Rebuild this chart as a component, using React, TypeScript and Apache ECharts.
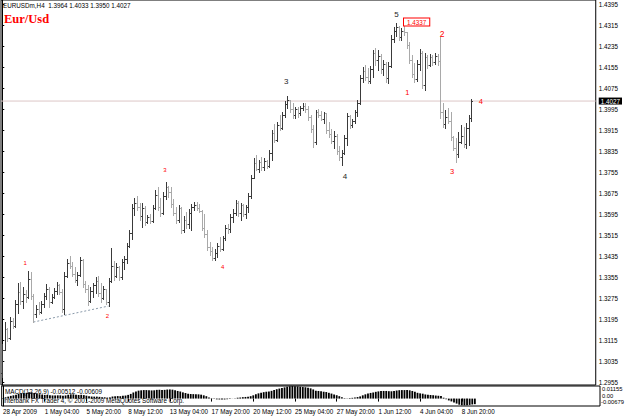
import React, { useEffect, useRef } from 'react';
import * as echarts from 'echarts';

// ---- Data (EURUSDm, H4) ----
const open = [
  1.2990, 1.3080, 1.3158, 1.3125, 1.3190, 1.3170, 1.3255, 1.3300, 1.3265, 1.3290,
  1.3280, 1.3350, 1.3285, 1.3215, 1.3235, 1.3225, 1.3255, 1.3285, 1.3310, 1.3260,
  1.3280, 1.3305, 1.3325, 1.3300, 1.3235, 1.3360, 1.3410, 1.3400, 1.3370, 1.3345,
  1.3365, 1.3420, 1.3330, 1.3310, 1.3265, 1.3305, 1.3325, 1.3340, 1.3295, 1.3275,
  1.3310, 1.3262, 1.3340, 1.3400, 1.3360, 1.3395, 1.3355, 1.3415, 1.3425, 1.3475,
  1.3525, 1.3620, 1.3640, 1.3625, 1.3590, 1.3620, 1.3565, 1.3585, 1.3570, 1.3620,
  1.3670, 1.3625, 1.3600, 1.3665, 1.3700, 1.3680, 1.3635, 1.3600, 1.3575, 1.3620,
  1.3535, 1.3575, 1.3560, 1.3600, 1.3625, 1.3630, 1.3620, 1.3610, 1.3545, 1.3520,
  1.3470, 1.3455, 1.3430, 1.3450, 1.3475, 1.3465, 1.3505, 1.3545, 1.3540, 1.3585,
  1.3600, 1.3640, 1.3600, 1.3630, 1.3595, 1.3625, 1.3665, 1.3735, 1.3790, 1.3770,
  1.3795, 1.3775, 1.3800, 1.3780, 1.3830, 1.3905, 1.3880, 1.3935, 1.3925, 1.3975,
  1.4015, 1.4030, 1.3995, 1.3975, 1.3995, 1.3980, 1.4000, 1.4010, 1.3995, 1.3965,
  1.3920, 1.3870, 1.3985, 1.3975, 1.3960, 1.3980, 1.3915, 1.3900, 1.3875, 1.3895,
  1.3835, 1.3815, 1.3830, 1.3885, 1.3970, 1.3935, 1.3950, 1.3985, 1.4020, 1.4115,
  1.4140, 1.4120, 1.4105, 1.4150, 1.4210, 1.4185, 1.4200, 1.4150, 1.4170, 1.4115,
  1.4160, 1.4265, 1.4295, 1.4310, 1.4270, 1.4295, 1.4290, 1.4240, 1.4185, 1.4130,
  1.4110, 1.4170, 1.4210, 1.4090, 1.4195, 1.4165, 1.4195, 1.4175, 1.4200, 1.4180,
  1.3985, 1.3940, 1.3965, 1.3950, 1.3890, 1.3850, 1.3825, 1.3870, 1.3895, 1.3865,
  1.3925, 1.3964,
];
const high = [
  1.3101, 1.3185, 1.3162, 1.3204, 1.3200, 1.3270, 1.3334, 1.3338, 1.3319, 1.3307,
  1.3380, 1.3374, 1.3291, 1.3250, 1.3260, 1.3265, 1.3296, 1.3329, 1.3318, 1.3291,
  1.3313, 1.3338, 1.3329, 1.3310, 1.3374, 1.3424, 1.3435, 1.3414, 1.3395, 1.3376,
  1.3433, 1.3425, 1.3341, 1.3326, 1.3319, 1.3334, 1.3357, 1.3360, 1.3334, 1.3322,
  1.3311, 1.3353, 1.3467, 1.3418, 1.3410, 1.3399, 1.3425, 1.3437, 1.3486, 1.3536,
  1.3633, 1.3658, 1.3665, 1.3639, 1.3639, 1.3628, 1.3593, 1.3597, 1.3631, 1.3690,
  1.3698, 1.3658, 1.3681, 1.3717, 1.3705, 1.3698, 1.3652, 1.3624, 1.3631, 1.3625,
  1.3589, 1.3604, 1.3616, 1.3635, 1.3643, 1.3643, 1.3635, 1.3612, 1.3597, 1.3536,
  1.3490, 1.3471, 1.3463, 1.3486, 1.3509, 1.3513, 1.3555, 1.3559, 1.3597, 1.3616,
  1.3650, 1.3645, 1.3639, 1.3635, 1.3631, 1.3677, 1.3745, 1.3810, 1.3821, 1.3802,
  1.3814, 1.3810, 1.3802, 1.3840, 1.3917, 1.3940, 1.3947, 1.3974, 1.3985, 1.4027,
  1.4046, 1.4031, 1.4020, 1.4004, 1.4004, 1.4008, 1.4020, 1.4020, 1.4008, 1.3974,
  1.3936, 1.3993, 1.3997, 1.3989, 1.3985, 1.3981, 1.3947, 1.3920, 1.3913, 1.3900,
  1.3856, 1.3840, 1.3898, 1.3981, 1.3975, 1.3959, 1.3993, 1.4031, 1.4126, 1.4157,
  1.4164, 1.4153, 1.4160, 1.4221, 1.4229, 1.4221, 1.4205, 1.4183, 1.4175, 1.4176,
  1.4279, 1.4309, 1.4324, 1.4312, 1.4305, 1.4337, 1.4290, 1.4252, 1.4203, 1.4172,
  1.4183, 1.4225, 1.4218, 1.4210, 1.4203, 1.4206, 1.4203, 1.4210, 1.4205, 1.4271,
  1.4020, 1.3993, 1.4001, 1.3985, 1.3895, 1.3886, 1.3909, 1.3936, 1.3928, 1.3943,
  1.3974, 1.4033,
];
const low = [
  1.2975, 1.3078, 1.3112, 1.3120, 1.3162, 1.3165, 1.3219, 1.3253, 1.3239, 1.3262,
  1.3275, 1.3272, 1.3185, 1.3204, 1.3215, 1.3220, 1.3242, 1.3272, 1.3242, 1.3258,
  1.3276, 1.3291, 1.3291, 1.3223, 1.3215, 1.3357, 1.3391, 1.3360, 1.3338, 1.3326,
  1.3360, 1.3319, 1.3300, 1.3250, 1.3262, 1.3280, 1.3296, 1.3284, 1.3262, 1.3273,
  1.3254, 1.3246, 1.3338, 1.3345, 1.3357, 1.3345, 1.3350, 1.3387, 1.3410, 1.3470,
  1.3500, 1.3593, 1.3612, 1.3574, 1.3547, 1.3555, 1.3562, 1.3562, 1.3565, 1.3615,
  1.3612, 1.3589, 1.3595, 1.3652, 1.3663, 1.3624, 1.3593, 1.3562, 1.3566, 1.3524,
  1.3530, 1.3543, 1.3543, 1.3536, 1.3612, 1.3612, 1.3604, 1.3536, 1.3509, 1.3460,
  1.3440, 1.3422, 1.3422, 1.3433, 1.3456, 1.3460, 1.3498, 1.3524, 1.3528, 1.3566,
  1.3593, 1.3589, 1.3574, 1.3589, 1.3581, 1.3604, 1.3658, 1.3734, 1.3764, 1.3757,
  1.3764, 1.3764, 1.3772, 1.3775, 1.3802, 1.3871, 1.3875, 1.3917, 1.3920, 1.3966,
  1.4000, 1.3985, 1.3962, 1.3962, 1.3966, 1.3975, 1.3993, 1.3985, 1.3955, 1.3909,
  1.3852, 1.3865, 1.3966, 1.3955, 1.3943, 1.3905, 1.3890, 1.3867, 1.3848, 1.3825,
  1.3802, 1.3785, 1.3825, 1.3860, 1.3924, 1.3928, 1.3943, 1.3970, 1.4015, 1.4100,
  1.4107, 1.4096, 1.4096, 1.4119, 1.4164, 1.4145, 1.4134, 1.4126, 1.4100, 1.4096,
  1.4155, 1.4252, 1.4275, 1.4260, 1.4260, 1.4279, 1.4229, 1.4172, 1.4119, 1.4100,
  1.4105, 1.4145, 1.4077, 1.4070, 1.4153, 1.4160, 1.4164, 1.4170, 1.4164, 1.3962,
  1.3928, 1.3924, 1.3943, 1.3880, 1.3840, 1.3795, 1.3814, 1.3867, 1.3852, 1.3848,
  1.3860, 1.3950,
];
const close = [
  1.3080, 1.3160, 1.3125, 1.3190, 1.3170, 1.3255, 1.3300, 1.3265, 1.3290, 1.3280,
  1.3350, 1.3285, 1.3215, 1.3235, 1.3225, 1.3255, 1.3285, 1.3310, 1.3260, 1.3280,
  1.3305, 1.3325, 1.3300, 1.3235, 1.3360, 1.3410, 1.3400, 1.3370, 1.3345, 1.3365,
  1.3420, 1.3330, 1.3310, 1.3265, 1.3305, 1.3325, 1.3340, 1.3295, 1.3275, 1.3310,
  1.3262, 1.3340, 1.3400, 1.3360, 1.3395, 1.3355, 1.3415, 1.3425, 1.3475, 1.3525,
  1.3620, 1.3640, 1.3625, 1.3590, 1.3620, 1.3565, 1.3585, 1.3570, 1.3620, 1.3670,
  1.3625, 1.3600, 1.3665, 1.3700, 1.3680, 1.3635, 1.3600, 1.3575, 1.3620, 1.3535,
  1.3575, 1.3560, 1.3600, 1.3625, 1.3630, 1.3620, 1.3610, 1.3545, 1.3520, 1.3470,
  1.3455, 1.3430, 1.3450, 1.3475, 1.3465, 1.3505, 1.3545, 1.3540, 1.3585, 1.3600,
  1.3640, 1.3600, 1.3630, 1.3595, 1.3625, 1.3665, 1.3735, 1.3790, 1.3770, 1.3795,
  1.3775, 1.3800, 1.3780, 1.3830, 1.3905, 1.3880, 1.3935, 1.3925, 1.3975, 1.4015,
  1.4030, 1.3995, 1.3975, 1.3995, 1.3980, 1.4000, 1.4010, 1.3995, 1.3965, 1.3920,
  1.3870, 1.3985, 1.3975, 1.3960, 1.3980, 1.3915, 1.3900, 1.3875, 1.3895, 1.3835,
  1.3815, 1.3830, 1.3885, 1.3970, 1.3935, 1.3950, 1.3985, 1.4020, 1.4115, 1.4140,
  1.4120, 1.4105, 1.4150, 1.4210, 1.4185, 1.4200, 1.4150, 1.4170, 1.4115, 1.4160,
  1.4265, 1.4295, 1.4310, 1.4270, 1.4295, 1.4290, 1.4240, 1.4185, 1.4130, 1.4110,
  1.4170, 1.4210, 1.4090, 1.4195, 1.4165, 1.4195, 1.4175, 1.4200, 1.4180, 1.3985,
  1.3940, 1.3965, 1.3950, 1.3890, 1.3850, 1.3825, 1.3870, 1.3895, 1.3865, 1.3925,
  1.3964, 1.4027,
];
const macd = [
  0.0005, 0.0012, 0.0018, 0.0025, 0.0030, 0.0036, 0.0043, 0.0048, 0.0051, 0.0053,
  0.0058, 0.0059, 0.0052, 0.0046, 0.0040, 0.0036, 0.0034, 0.0034, 0.0031, 0.0029,
  0.0029, 0.0030, 0.0030, 0.0025, 0.0029, 0.0035, 0.0039, 0.0039, 0.0036, 0.0033,
  0.0035, 0.0032, 0.0027, 0.0021, 0.0019, 0.0018, 0.0018, 0.0016, 0.0013, 0.0012,
  0.0009, 0.0011, 0.0019, 0.0021, 0.0023, 0.0022, 0.0025, 0.0028, 0.0034, 0.0043,
  0.0056, 0.0066, 0.0073, 0.0076, 0.0078, 0.0078, 0.0077, 0.0075, 0.0076, 0.0080,
  0.0081, 0.0079, 0.0080, 0.0083, 0.0084, 0.0082, 0.0076, 0.0070, 0.0065, 0.0057,
  0.0051, 0.0045, 0.0042, 0.0041, 0.0040, 0.0039, 0.0036, 0.0030, 0.0022, 0.0010,
  0.0003, -0.0003, -0.0007, -0.0008, -0.0009, -0.0008, -0.0006, -0.0004, -0.0001, 0.0003,
  0.0008, 0.0010, 0.0013, 0.0015, 0.0017, 0.0022, 0.0030, 0.0040, 0.0048, 0.0054,
  0.0059, 0.0063, 0.0066, 0.0071, 0.0079, 0.0086, 0.0092, 0.0098, 0.0103, 0.0109,
  0.0113, 0.0115, 0.0114, 0.0112, 0.0109, 0.0106, 0.0104, 0.0100, 0.0094, 0.0084,
  0.0072, 0.0070, 0.0067, 0.0063, 0.0060, 0.0053, 0.0046, 0.0038, 0.0031, 0.0022,
  0.0012, 0.0004, 0.0002, 0.0005, 0.0007, 0.0009, 0.0014, 0.0020, 0.0030, 0.0039,
  0.0046, 0.0052, 0.0056, 0.0062, 0.0066, 0.0069, 0.0070, 0.0070, 0.0068, 0.0067,
  0.0070, 0.0074, 0.0077, 0.0078, 0.0078, 0.0079, 0.0076, 0.0070, 0.0062, 0.0053,
  0.0048, 0.0045, 0.0038, 0.0036, 0.0033, 0.0031, 0.0028, 0.0026, 0.0023, 0.0008,
  -0.0006, -0.0017, -0.0026, -0.0036, -0.0046, -0.0056, -0.0061, -0.0062, -0.0060, -0.0058,
  -0.0054, -0.00512,
];

const xTickBars = [0, 16, 32, 48, 64, 80, 96, 112, 128, 144, 160, 176];
const xTickLabels = [
  '28 Apr 2009', '1 May 04:00', '5 May 20:00', '8 May 12:00', '13 May 04:00', '17 May 20:00',
  '20 May 12:00', '25 May 04:00', '27 May 20:00', '1 Jun 12:00', '4 Jun 04:00', '8 Jun 20:00',
];
const priceTicks = [
  1.4395, 1.4315, 1.4235, 1.4155, 1.4075, 1.3995, 1.3915, 1.3835, 1.3755, 1.3675,
  1.3595, 1.3515, 1.3435, 1.3355, 1.3275, 1.3195, 1.3115, 1.3035, 1.2955,
];
const macdLabels = ['0.01155', '0.00', '-0.00679'];

// wave counts: text, bar position, price, colour, font size
const waveText = ['1', '2', '3', '4', '3', '4', '5', '1', '2', '3', '4'];
const waveBar = [8.8, 40.6, 62.8, 85, 109.6, 132.2, 152.1, 156.3, 169.7, 173.6, 184.7];
const wavePrice = [1.3410, 1.3208, 1.3764, 1.3395, 1.4100, 1.3738, 1.4355, 1.4058, 1.4282, 1.3757, 1.4024];
const waveColor = ['#ff0000', '#ff0000', '#ff0000', '#ff0000', '#1e1e1e', '#1e1e1e', '#1e1e1e', '#ff0000', '#ff0000', '#ff0000', '#ff0000'];
const waveSize = [6, 6, 6, 6, 8, 8, 8, 7.5, 8.5, 7.5, 7.5];

const FONT = 'Liberation Sans, Arial, sans-serif';

export default function App() {
  const ref = useRef<HTMLDivElement>(null);
  useEffect(() => {
    if (!ref.current) return;
    const chart = echarts.init(ref.current, undefined, { renderer: 'svg' });
    const n = close.length;
    const last = close[n - 1];
    const ohlc = close.map((_, i) => [i, open[i], close[i], low[i], high[i]]);
    const peakIdx = high.indexOf(Math.max(...high));
    const up = '#3a3a3a';
    const down = '#a9a9a9';
    const yTicks = [...priceTicks, last];
    const waves = waveText.map((_, i) => [waveBar[i], wavePrice[i], i]);

    chart.setOption({
      animation: false,
      backgroundColor: '#ffffff',
      textStyle: { fontFamily: FONT },
      grid: [
        { left: 1, top: 0, width: 599, height: 385, show: true, borderColor: '#000', borderWidth: 1, backgroundColor: '#fff' },
        { left: 1, top: 386, width: 599, height: 20, show: true, borderColor: '#000', borderWidth: 1 },
      ],
      xAxis: [
        {
          gridIndex: 0, type: 'value', min: -0.5, max: 229,
          axisLine: { show: false }, axisTick: { show: false }, axisLabel: { show: false }, splitLine: { show: false },
        },
        {
          gridIndex: 1, type: 'value', min: -0.5, max: 229,
          axisLine: { show: false }, splitLine: { show: false },
          axisTick: { show: true, customValues: xTickBars, length: 3, lineStyle: { color: '#000', width: 1 } },
          axisLabel: {
            show: true, customValues: xTickBars, fontSize: 6.3, color: '#000', align: 'left', margin: 2,
            fontFamily: FONT,
            formatter: (v: number) => xTickLabels[xTickBars.indexOf(Math.round(v))] ?? '',
          },
        },
      ],
      yAxis: [
        {
          gridIndex: 0, type: 'value', position: 'right', min: 1.29452, max: 1.4412,
          splitLine: { show: false },
          axisLine: { show: true, lineStyle: { color: '#000' } },
          axisTick: { show: true, customValues: priceTicks, length: 2, lineStyle: { color: '#000' } },
          axisLabel: {
            show: true, customValues: yTicks, fontSize: 6.3, color: '#000', margin: 3, fontFamily: FONT,
            formatter: (v: number) => (Math.abs(v - last) < 1e-9 ? `{hl|${v.toFixed(4)}}` : v.toFixed(4)),
            rich: {
              hl: { color: '#fff', backgroundColor: '#000', padding: [1, 2, 0, 2], fontSize: 6.3, fontFamily: FONT },
            },
          },
        },
        {
          gridIndex: 1, type: 'value', position: 'right', min: -0.0068, max: 0.01155,
          splitLine: { show: false }, axisLine: { show: true, lineStyle: { color: '#000' } },
          axisTick: { show: false }, axisLabel: { show: false },
        },
      ],
      series: [
        {
          type: 'line', xAxisIndex: 0, yAxisIndex: 0, symbol: 'none', silent: true,
          data: [[-0.5, last], [229, last]],
          lineStyle: { color: '#dcc6c6', width: 1 },
          z: 1,
        },
        {
          type: 'custom', xAxisIndex: 0, yAxisIndex: 0, data: ohlc,
          encode: { x: 0, y: [1, 2, 3, 4] },
          renderItem: (params: any, api: any) => {
            const i = api.value(0);
            const o = api.coord([i, api.value(1)]);
            const c = api.coord([i, api.value(2)]);
            const l = api.coord([i, api.value(3)]);
            const h = api.coord([i, api.value(4)]);
            const color = api.value(2) >= api.value(1) ? up : down;
            const x = Math.round(h[0]) + 0.5;
            const oy = Math.round(o[1]) + 0.5;
            const cy = Math.round(c[1]) + 0.5;
            const st = { stroke: color, lineWidth: 1 };
            return {
              type: 'group',
              children: [
                { type: 'line', shape: { x1: x, y1: Math.round(h[1]), x2: x, y2: Math.round(l[1]) + 1 }, style: st },
                { type: 'line', shape: { x1: x - 1.5, y1: oy, x2: x, y2: oy }, style: st },
                { type: 'line', shape: { x1: x, y1: cy, x2: x + 1.5, y2: cy }, style: st },
              ],
            };
          },
          z: 3,
        },
        {
          type: 'line', xAxisIndex: 0, yAxisIndex: 0, symbol: 'none',
          data: [[12, low[12]], [41, low[41]]],
          lineStyle: { color: '#8a9aaa', width: 1, type: [2, 2] },
          z: 2,
        },
        {
          type: 'custom', xAxisIndex: 0, yAxisIndex: 0, data: waves, silent: true,
          encode: { x: 0, y: 1 },
          renderItem: (params: any, api: any) => {
            const k = api.value(2);
            const p = api.coord([api.value(0), api.value(1)]);
            return {
              type: 'text', x: p[0], y: p[1],
              style: {
                text: waveText[k], fill: waveColor[k], font: `${waveSize[k]}px ${FONT}`,
                align: 'center', verticalAlign: 'middle',
              },
            };
          },
          z: 4,
        },
        {
          type: 'custom', xAxisIndex: 0, yAxisIndex: 0, data: [[peakIdx, high[peakIdx]]], silent: true,
          encode: { x: 0, y: 1 },
          renderItem: (params: any, api: any) => {
            const p = api.coord([api.value(0), api.value(1)]);
            return {
              type: 'text', x: Math.round(p[0]), y: Math.round(p[1]) + 2,
              style: {
                text: high[peakIdx].toFixed(4), fill: '#ff0000', font: `6.3px ${FONT}`,
                align: 'left', verticalAlign: 'middle',
                backgroundColor: '#fff', borderColor: '#ff0000', borderWidth: 1, padding: [1, 3, 0, 3],
              },
            };
          },
          z: 5,
        },
        {
          type: 'bar', xAxisIndex: 1, yAxisIndex: 1, barWidth: 1.8,
          data: macd.map((v, i) => [i, v]),
          itemStyle: { color: '#000' },
        },
      ],
      graphic: [
        { type: 'text', x: 3, y: 2, style: { text: 'EURUSDm,H4  1.3964 1.4033 1.3950 1.4027', font: `6.3px ${FONT}`, fill: '#000' } },
        { type: 'text', x: 4, y: 12, style: { text: 'Eur/Usd', font: `bold 12.5px "Liberation Serif", "Times New Roman", serif`, fill: '#ff0000' } },
        { type: 'text', x: 5, y: 388, style: { text: 'MACD(12,26,9) -0.00512 -0.00609', font: `6.3px ${FONT}`, fill: '#000' } },
        { type: 'text', x: 3, y: 397, style: { text: 'Interbank FX Trader 4, © 2001-2009 MetaQuotes Software Corp.', font: `6.3px ${FONT}`, fill: '#000' } },
        { type: 'text', x: 602, y: 386, style: { text: macdLabels[0], font: `5.8px ${FONT}`, fill: '#000' } },
        { type: 'text', x: 602, y: 392.5, style: { text: macdLabels[1], font: `5.8px ${FONT}`, fill: '#000' } },
        { type: 'text', x: 601, y: 399, style: { text: macdLabels[2], font: `5.8px ${FONT}`, fill: '#000' } },
      ],
    });
    return () => chart.dispose();
  }, []);

  return (
    <div style={{ position: 'absolute', left: 0, top: 0, width: 625, height: 418, background: '#fff' }}>
      <div ref={ref} style={{ width: 625, height: 418 }} />
    </div>
  );
}
